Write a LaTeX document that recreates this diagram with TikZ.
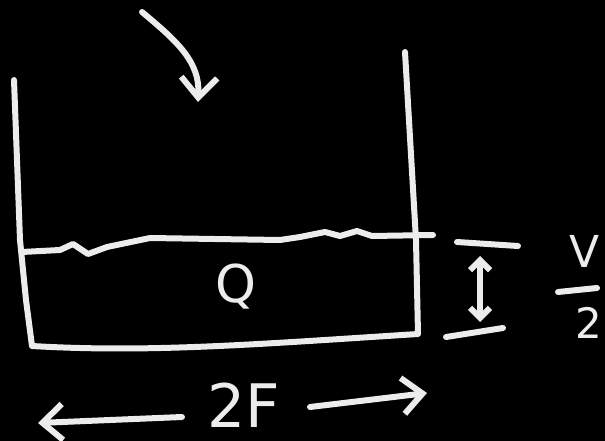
\documentclass[tikz,border=0pt]{standalone}
\usepackage{fontspec}
\setmainfont{DejaVu Sans}
\usetikzlibrary{arrows.meta}
\definecolor{chalk}{HTML}{ECECEC}
\begin{document}
\begin{tikzpicture}[x=1pt,y=-1pt,
  chalkline/.style={draw=chalk, line width=6pt, line cap=round, line join=round},
  bigarrow/.style={chalkline, -{Straight Barb[length=20pt,width=36pt]}},
  dimarrow/.style={chalkline, {Straight Barb[length=10pt,width=20pt]}-{Straight Barb[length=10pt,width=20pt]}},
  lbl/.style={text=chalk, inner sep=0pt}]
\fill[black] (0,0) rectangle (605,441);
\useasboundingbox (0,0) rectangle (605,441);
% container
\draw[chalkline] (14,80) -- (20,240) -- (26,300) -- (32,346)
  .. controls (150,353) and (260,344) .. (418,334) -- (416,240) -- (405,52);
% liquid surface
\draw[chalkline] (22,252) -- (60,250) -- (73,244) -- (88,254) -- (107,247) -- (150,238)
  -- (280,240) -- (300,237) -- (325,232) -- (340,236) -- (357,231) -- (372,236) -- (433,235);
% incoming arrow
\coordinate (inS) at (142,12);
\coordinate (inE) at (198,102);
\draw[bigarrow] (inS) .. controls (178,42) and (200,62) .. (inE);
% labels
\node[lbl, font=\fontsize{52}{52}\selectfont] (Q) at (236,287) {Q};
\node[lbl, font=\fontsize{60}{60}\selectfont] (twoF) at (244,405) {2F};
% bottom arrows
\coordinate (wL) at (38,423);
\coordinate (wLs) at (182,417);
\coordinate (wRs) at (310,407);
\coordinate (wR) at (427,393);
\draw[bigarrow] (wLs) -- (wL);
\draw[bigarrow] (wRs) -- (wR);
% height dimension
\coordinate (t1) at (457,242); \coordinate (t2) at (518,246);
\coordinate (b1) at (446,337); \coordinate (b2) at (503,328);
\draw[chalkline] (t1) -- (t2);
\draw[chalkline] (b1) -- (b2);
\coordinate (dTop) at (480,256); \coordinate (dBot) at (480,322);
\draw[dimarrow] (dTop) -- (dBot);
% V/2
\node[lbl, font=\fontsize{44}{44}\selectfont] (V) at (585,251) {V};
\coordinate (f1) at (558,292); \coordinate (f2) at (597,288);
\draw[chalkline] (f1) -- (f2);
\node[lbl, font=\fontsize{42}{42}\selectfont] (two) at (589,323) {2};
\end{tikzpicture}
\end{document}
